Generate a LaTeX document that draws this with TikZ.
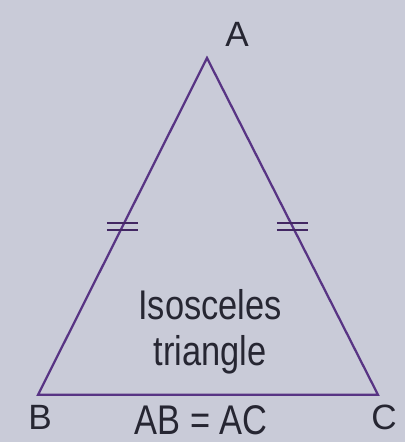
\documentclass[tikz,border=0pt]{standalone}
\usepackage{fontspec}
\setmainfont{Liberation Sans}
\usepackage{xcolor}
\usetikzlibrary{calc}
\definecolor{pagebg}{RGB}{201,203,216}
\definecolor{edgecol}{RGB}{88,52,132}
\definecolor{inkcol}{RGB}{38,38,50}

\begin{document}
\begin{tikzpicture}[
    side/.style={draw=edgecol, line width=1.6pt, line join=miter},
    tickmark/.style={draw=edgecol!75!black, line width=1.6pt},
    vlabel/.style={text=inkcol, font=\fontsize{25}{28}\selectfont, inner sep=0pt, anchor=base},
    caption/.style={text=inkcol, font=\fontsize{29.5}{32}\selectfont, inner sep=0pt, anchor=base, xscale=0.83}
]

% Page background
\fill[pagebg] (0,0) rectangle (10.125,11.05);
\useasboundingbox (0,0) rectangle (10.125,11.05);

% Vertices
\coordinate (A) at (5.175,9.6);
\coordinate (B) at (0.95,1.18);
\coordinate (C) at (9.45,1.18);

% Triangle
\draw[side] (A) -- (B) -- (C) -- cycle;

% Equal sides marks
\coordinate (mAB) at ($(A)!0.5!(B)$);
\coordinate (mAC) at ($(A)!0.5!(C)$);
\draw[tickmark] ([xshift=-0.39cm, yshift=0.09cm]mAB) -- ([xshift=0.39cm, yshift=0.09cm]mAB);
\draw[tickmark] ([xshift=-0.39cm, yshift=-0.09cm]mAB) -- ([xshift=0.39cm, yshift=-0.09cm]mAB);
\draw[tickmark] ([xshift=-0.39cm, yshift=0.09cm]mAC) -- ([xshift=0.39cm, yshift=0.09cm]mAC);
\draw[tickmark] ([xshift=-0.39cm, yshift=-0.09cm]mAC) -- ([xshift=0.39cm, yshift=-0.09cm]mAC);

% Vertex labels
\node[vlabel] (lblA) at (5.925,9.875) {A};
\node[vlabel] (lblB) at (1.0,0.3) {B};
\node[vlabel] (lblC) at (9.6,0.3) {C};

% Captions
\node[caption] (name1) at (5.25,3.05) {Isosceles};
\node[caption] (name2) at (5.25,1.9) {triangle};
\node[caption] (rule) at (5.03,0.2) {AB = AC};

\end{tikzpicture}
\end{document}
